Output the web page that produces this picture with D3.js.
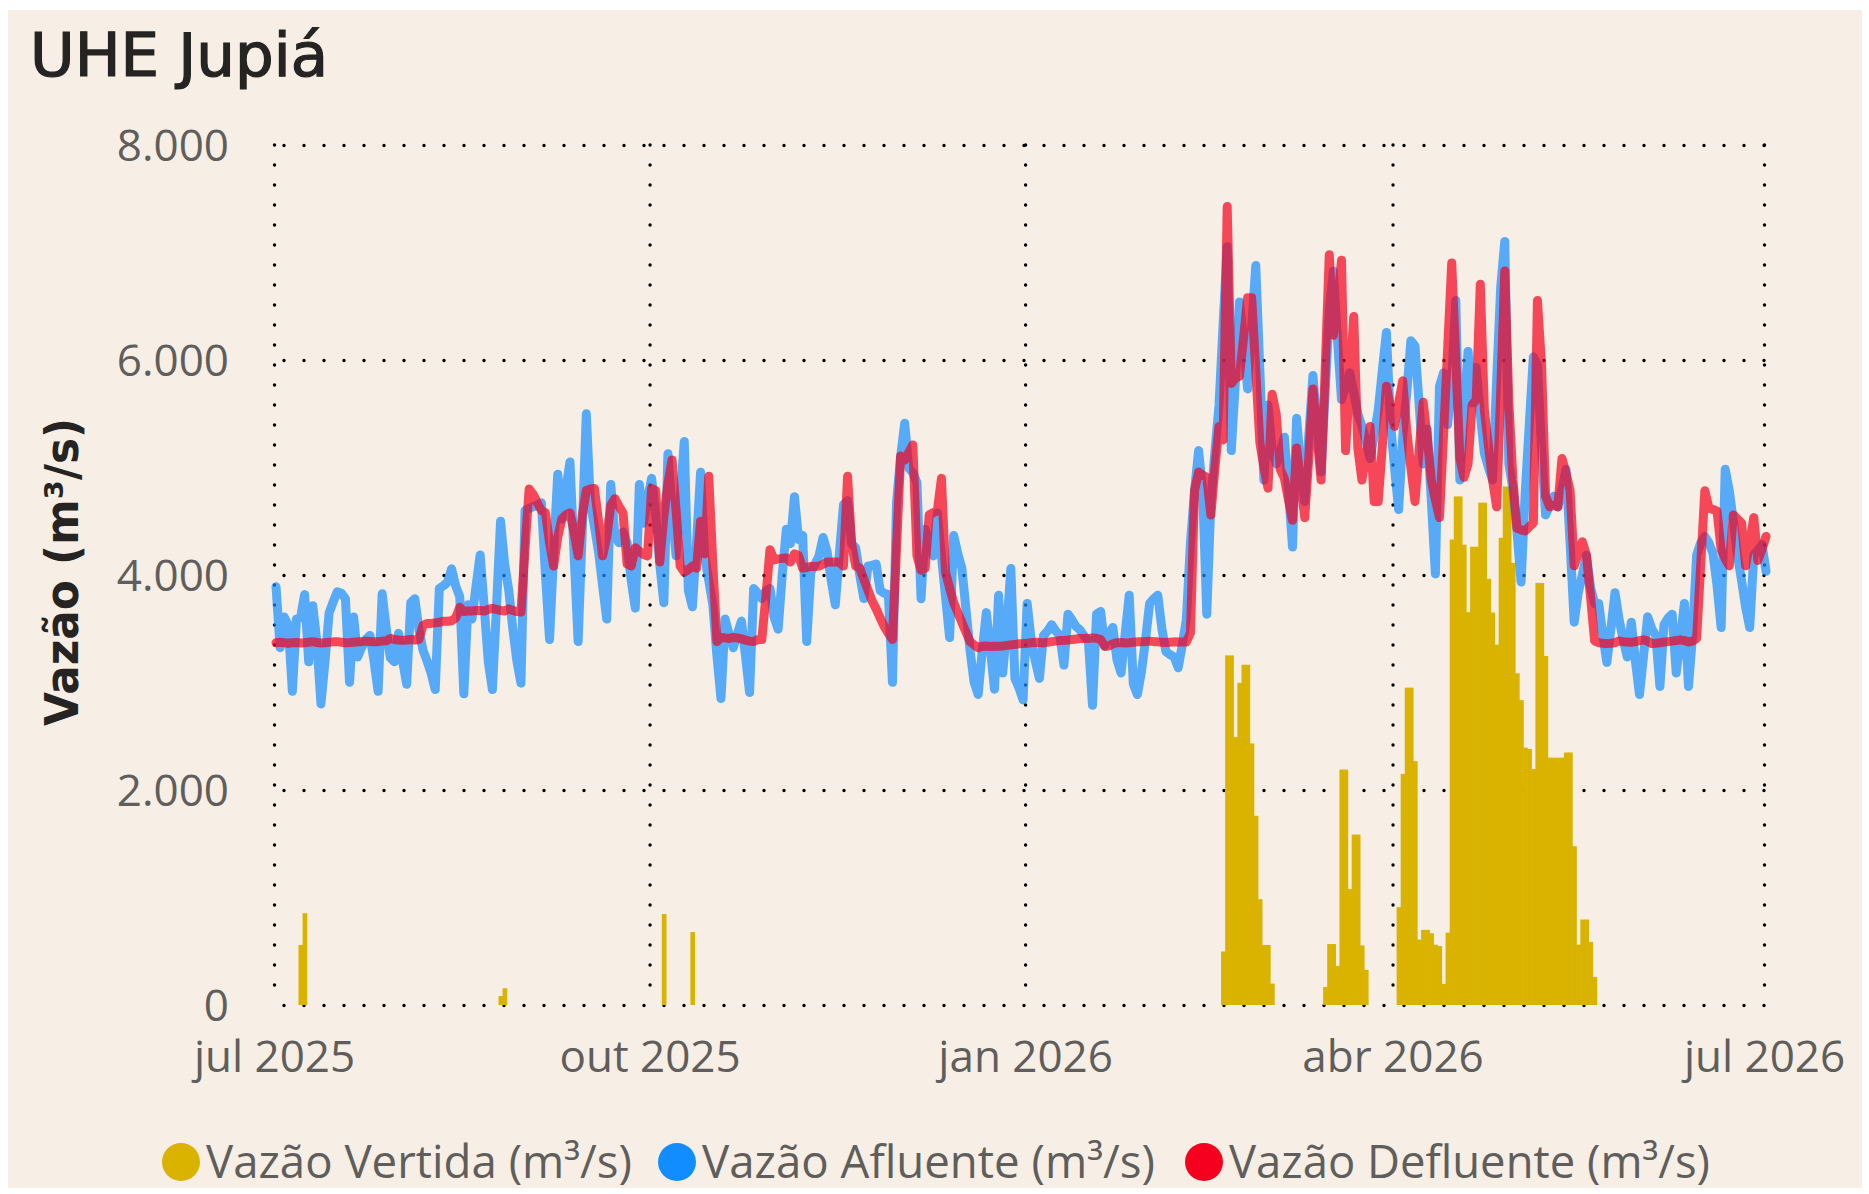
<!DOCTYPE html>
<html>
<head>
<meta charset="utf-8">
<script src="https://cdn.jsdelivr.net/npm/d3@7"></script>
<style>
body { margin: 0; background: #ffffff; }
</style>
</head>
<body>
<div id="chart"></div>
<script>
// first day of the series (one value per day)
const startDate = new Date(2025, 6, 1);

// Vazão Afluente (m³/s), daily from 01/07/2025
const afluente = [
  3890,3324,3609,3533,2918,3590,3600,3818,3192,3715,
  3381,2801,3200,3647,3750,3844,3830,3780,3002,3609,
  3237,3330,3400,3438,3200,2918,3825,3500,3230,3192,
  3457,3200,2983,3742,3780,3495,3300,3200,3085,2934,
  3875,3900,3932,4057,3900,3799,2896,3723,3590,3900,
  4186,3700,3192,2934,3700,4501,4100,3860,3500,3200,
  2994,4600,4620,4634,4650,4672,4000,3400,4200,4937,
  4520,4800,5051,4200,3381,4400,5499,4672,4450,4216,
  3900,3590,4842,4368,4300,4400,4300,3950,3692,4842,
  4482,4700,4899,4558,4100,3742,5127,4600,4178,4700,
  5241,3856,3704,4300,4956,4178,3950,3723,3250,2850,
  3590,3450,3324,3450,3571,3250,2907,3875,3830,3780,
  3850,3875,3609,3495,4000,4425,4292,4729,4330,4368,
  3381,4026,4100,4178,4349,4216,3950,3723,4200,4653,
  4691,4292,4250,4000,3780,4083,4090,4102,3856,3830,
  3818,3002,4672,5100,5412,4994,4950,4861,3780,4425,
  4300,4178,4577,4178,3800,3419,4368,4200,4064,3685,
  3300,3002,2888,3300,3650,3300,2938,3811,3088,3500,
  4060,3038,2950,2838,3736,3387,3200,3038,3437,3480,
  3537,3480,3437,3162,3636,3580,3520,3487,3430,3387,
  2788,3636,3661,3337,3450,3512,3212,3088,3450,3811,
  2988,2888,3100,3400,3736,3780,3811,3500,3287,3260,
  3237,3137,3350,3586,4300,4783,5157,4783,3636,4683,
  5150,5581,6330,7053,5157,5800,6540,6200,5731,6300,
  6878,5900,4883,5581,5157,5032,5150,5282,4800,4260,
  5457,5000,4683,5300,5856,5400,4958,5700,6454,6829,
  6200,5631,5750,5881,5700,5500,5382,5250,5083,5300,
  5532,5900,6255,5407,5000,4609,5282,5700,6180,6130,
  5600,5032,5357,4700,4010,5756,5881,5400,5800,6554,
  4883,5500,6080,5600,5931,5500,5132,5000,4883,5800,
  6679,7103,5032,4800,4400,3935,4758,5400,6030,5955,
  5182,4559,4650,4733,4633,4800,4983,4300,3561,3836,
  4000,4185,3885,3736,3736,3450,3187,3500,3836,3586,
  3400,3237,3561,3200,2888,3250,3611,3500,3437,2963,
  3536,3600,3636,3088,3400,3736,2963,3437,4185,4300,
  4359,4300,4200,3900,3511,4983,4783,4500,4185,3950,
  3700,3511,4185,4230,4284,4035
];

// Vazão Defluente (m³/s), daily from 01/07/2025
const defluente = [
  3370,3375,3370,3365,3370,3372,3368,3370,3375,3380,
  3372,3368,3370,3375,3378,3380,3375,3370,3372,3375,
  3378,3380,3385,3382,3378,3380,3385,3388,3410,3400,
  3395,3392,3395,3400,3395,3400,3530,3550,3550,3555,
  3560,3570,3570,3575,3600,3700,3660,3665,3665,3670,
  3670,3665,3680,3690,3680,3670,3665,3685,3670,3660,
  3655,4250,4800,4750,4672,4600,4577,4300,4083,4350,
  4520,4560,4577,4400,4178,4550,4786,4800,4805,4500,
  4178,4350,4650,4710,4640,4577,4102,4083,4254,4220,
  4190,4178,4805,4786,4121,4550,4850,5070,4600,4083,
  4026,4050,4083,4064,4501,4197,4918,4100,3381,3419,
  3415,3410,3419,3415,3405,3395,3385,3381,3400,3400,
  3800,4235,4140,4150,4155,4159,4121,4197,4180,4064,
  4070,4080,4080,4083,4100,4121,4120,4120,4121,4083,
  4918,4292,4083,4064,3960,3860,3760,3685,3600,3520,
  3457,3400,4250,5108,5070,5140,5210,4178,4045,4064,
  4558,4580,4596,4899,4026,3880,3742,3650,3560,3470,
  3381,3350,3324,3337,3340,3335,3338,3337,3340,3345,
  3350,3355,3360,3362,3365,3370,3375,3372,3368,3375,
  3380,3385,3390,3392,3395,3400,3405,3410,3412,3410,
  3415,3412,3400,3337,3340,3360,3370,3372,3368,3370,
  3375,3378,3380,3382,3385,3380,3378,3375,3372,3375,
  3378,3377,3377,3377,3462,4783,4958,4930,4908,4559,
  5000,5382,5257,7427,5781,5831,5850,6200,6579,6579,
  5900,5232,5000,4808,5681,5500,4983,4900,4700,4509,
  5182,4850,4534,5100,5731,5300,4883,5900,6978,6230,
  6500,6928,5157,5800,6404,5182,4883,5100,5382,4684,
  4684,5200,5756,5550,5382,5600,5806,5332,5000,4684,
  5150,5606,5282,4883,4700,4534,5300,6100,6903,6000,
  5083,4908,5033,5581,5631,6704,5532,5200,4883,4634,
  5700,6829,5600,4883,4434,4420,4409,4450,4484,6554,
  5956,4733,4634,4650,4634,5083,4950,4783,4085,4200,
  4309,4185,3800,3387,3370,3365,3362,3365,3370,3387,
  3380,3377,3375,3380,3390,3397,3385,3362,3365,3370,
  3377,3380,3385,3390,3397,3390,3377,3385,3412,4100,
  4783,4624,4610,4594,4235,4150,4085,4559,4520,4484,
  4085,4300,4534,4135,4235,4359
];

// Vazão Vertida (m³/s): only the days that have a bar (day index from startDate)
const vertidaDias = [
  6,7,55,56,95,102,
  232,233,234,235,236,237,238,239,240,241,242,243,244,
  257,258,259,260,261,262,263,264,265,266,267,
  275,276,277,278,279,280,281,282,283,284,285,286,287,288,289,290,291,292,293,294,
  295,296,297,298,299,300,301,302,303,304,305,306,307,308,309,310,311,312,313,314,
  315,316,317,318,319,320,321,322,323
];
const vertidaValores = [
  558,854,83,156,846,679,
  498,3252,3252,2492,2997,3165,3165,2433,1760,984,558,558,199,
  168,567,567,364,2190,2190,1078,1585,1585,554,327,
  910,2150,2952,2952,2269,609,699,699,667,561,548,196,673,4330,4731,4731,4282,3654,4263,4263,
  4673,4673,3965,3651,3352,4346,4823,4823,4112,3086,2836,2394,2381,2195,3926,3926,3247,2301,2301,2301,
  2301,2349,2349,1477,561,795,795,587,260
];

const yTicks = [0, 2000, 4000, 6000, 8000];
const xTicks = [new Date(2025, 6, 1), new Date(2025, 9, 1), new Date(2026, 0, 1), new Date(2026, 3, 1), new Date(2026, 6, 1)];

const legendNames = ["Vazão Vertida (m³/s)", "Vazão Afluente (m³/s)", "Vazão Defluente (m³/s)"];
const legendColors = ["#D9B300", "#118DFF", "#F5001E"];

const width = 1869, height = 1194;
const margin = {top: 145, right: 105, bottom: 189, left: 274};

// pt-BR number and date formats
const ptNum = d3.formatLocale({decimal: ",", thousands: ".", grouping: [3], currency: ["R$", ""]});
const ptTime = d3.timeFormatLocale({
  dateTime: "%d/%m/%Y %H:%M:%S", date: "%d/%m/%Y", time: "%H:%M:%S", periods: ["AM", "PM"],
  days: ["domingo","segunda","terça","quarta","quinta","sexta","sábado"],
  shortDays: ["dom","seg","ter","qua","qui","sex","sáb"],
  months: ["janeiro","fevereiro","março","abril","maio","junho","julho","agosto","setembro","outubro","novembro","dezembro"],
  shortMonths: ["jan","fev","mar","abr","mai","jun","jul","ago","set","out","nov","dez"]
});

// a value of day i is drawn in the middle of that day
function dayDate(i) {
  return new Date(startDate.getFullYear(), startDate.getMonth(), startDate.getDate() + i, 12);
}

const svg = d3.select("#chart").append("svg")
  .attr("width", width)
  .attr("height", height);

// card background
svg.append("rect")
  .attr("x", 8).attr("y", 10)
  .attr("width", 1854).attr("height", 1178)
  .attr("fill", "#F7EFE5");

// title, a thin stroke gives it a medium weight
svg.append("text")
  .attr("x", 30).attr("y", 76)
  .attr("font-family", "'DejaVu Sans Condensed', Roboto, sans-serif")
  .attr("font-size", 60)
  .attr("fill", "#252423")
  .attr("stroke", "#252423")
  .attr("stroke-width", 1.2)
  .attr("textLength", 298)
  .attr("lengthAdjust", "spacingAndGlyphs")
  .text("UHE Jupiá");

const x = d3.scaleTime()
  .domain([xTicks[0], xTicks[xTicks.length - 1]])
  .range([margin.left, width - margin.right]);

const y = d3.scaleLinear()
  .domain([0, 8000])
  .range([height - margin.bottom, margin.top]);

// dotted grid, drawn with the axes' tick lines
const dotted = g => g.selectAll(".tick line")
  .attr("stroke", "#000")
  .attr("stroke-width", 3.4)
  .attr("stroke-linecap", "round")
  .attr("stroke-dasharray", "0 20");

const yAxis = g => g
  .attr("transform", `translate(${width - margin.right},0)`)
  .call(d3.axisLeft(y).tickValues(yTicks).tickSize(width - margin.right - 270).tickFormat(ptNum.format(",")))
  .call(g => g.select(".domain").remove())
  .call(dotted)
  .call(g => g.selectAll(".tick text")
    .attr("x", -(width - margin.right - 229))
    .attr("dy", "0.36em")
    .attr("font-family", "'Open Sans', sans-serif")
    .attr("font-size", 44)
    .attr("fill", "#605E5C"));

const xAxis = g => g
  .attr("transform", `translate(0,${height - margin.bottom})`)
  .call(d3.axisBottom(x).tickValues(xTicks).tickSize(-(height - margin.bottom - margin.top)).tickFormat(ptTime.format("%b %Y")))
  .call(g => g.select(".domain").remove())
  .call(dotted)
  .call(g => g.selectAll(".tick line").attr("y1", -(height - margin.bottom - margin.top)).attr("y2", 0))
  .call(g => g.selectAll(".tick text")
    .attr("y", 67)
    .attr("dy", 0)
    .attr("font-family", "'Open Sans', sans-serif")
    .attr("font-size", 44)
    .attr("fill", "#605E5C"));

svg.append("g").call(yAxis);
svg.append("g").call(xAxis);

// y axis title
svg.append("text")
  .attr("transform", "translate(78,572) rotate(-90)")
  .attr("text-anchor", "middle")
  .attr("font-family", "'DejaVu Sans Condensed', Roboto, sans-serif")
  .attr("font-weight", "bold")
  .attr("font-size", 46)
  .attr("fill", "#252423")
  .attr("textLength", 308)
  .attr("lengthAdjust", "spacingAndGlyphs")
  .text("Vazão (m³/s)");

// bars of the spilled flow (touching, as in the source)
const barW = x(dayDate(1)) - x(dayDate(0));
svg.append("g").selectAll("rect")
  .data(vertidaValores)
  .enter()
  .append("rect")
  .attr("x", (d, i) => x(dayDate(vertidaDias[i])) - barW / 2)
  .attr("width", barW + 0.6)
  .attr("y", d => y(d))
  .attr("height", d => y(0) - y(d))
  .attr("fill", legendColors[0]);

const line = d3.line()
  .x((d, i) => x(dayDate(i)))
  .y(d => y(d));

svg.append("path")
  .attr("d", line(afluente))
  .attr("fill", "none")
  .attr("stroke", legendColors[1])
  .attr("stroke-opacity", 0.7)
  .attr("stroke-width", 9)
  .attr("stroke-linejoin", "round")
  .attr("stroke-linecap", "round");

svg.append("path")
  .attr("d", line(defluente))
  .attr("fill", "none")
  .attr("stroke", legendColors[2])
  .attr("stroke-opacity", 0.7)
  .attr("stroke-width", 9)
  .attr("stroke-linejoin", "round")
  .attr("stroke-linecap", "round");

// legend
const legendX = [181, 677, 1204];
const legendW = [426, 453, 481];
const legend = svg.append("g").selectAll("g")
  .data(legendNames)
  .enter()
  .append("g")
  .attr("transform", (d, i) => `translate(${legendX[i]},1162)`);

legend.append("circle")
  .attr("r", 19)
  .attr("fill", (d, i) => legendColors[i]);

legend.append("text")
  .attr("x", 25)
  .attr("y", 16)
  .attr("font-family", "'Open Sans', sans-serif")
  .attr("font-size", 45)
  .attr("fill", "#605E5C")
  .attr("textLength", (d, i) => legendW[i])
  .attr("lengthAdjust", "spacingAndGlyphs")
  .text(d => d);
</script>
</body>
</html>
